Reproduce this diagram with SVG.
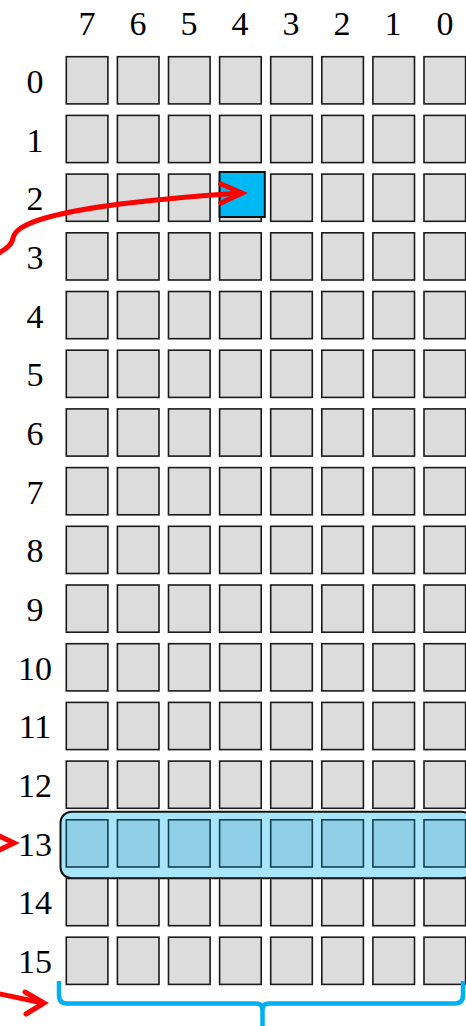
<svg xmlns="http://www.w3.org/2000/svg" width="466" height="1026" viewBox="0 0 466 1026">
<defs>
<style>
.c{fill:#dcdcdc;stroke:#1a1a1a;stroke-width:1.6}
.h{fill:#8fd0e8;stroke:#113f52;stroke-width:1.6}
.t{font-family:"Liberation Serif","DejaVu Serif",serif;font-size:34px;fill:#000;text-anchor:middle}
.r{fill:none;stroke:#ff0000;stroke-width:5;stroke-linecap:round;stroke-linejoin:miter}
</style>
<rect id="cell" width="41.6" height="47.2"/>
</defs>
<rect width="466" height="1026" fill="#fff"/>
<g id="col-labels" class="t">
<text x="87" y="35">7</text><text x="138" y="35">6</text><text x="189" y="35">5</text><text x="240" y="35">4</text><text x="291" y="35">3</text><text x="342" y="35">2</text><text x="393" y="35">1</text><text x="445" y="35">0</text>
</g>
<g id="row-labels" class="t">
<text x="35" y="93">0</text><text x="35" y="152">1</text><text x="35" y="210">2</text><text x="35" y="269">3</text><text x="35" y="328">4</text><text x="35" y="386">5</text><text x="35" y="445">6</text><text x="35" y="504">7</text><text x="35" y="562">8</text><text x="35" y="621">9</text><text x="35" y="680">10</text><text x="35" y="738">11</text><text x="35" y="797">12</text><text x="35" y="856">13</text><text x="35" y="914">14</text><text x="35" y="973">15</text>
</g>
<g id="grid">
<g id="rows0-12">
<!-- generated rows -->
<g transform="translate(0,56.7)"><use href="#cell" x="66.3" class="c"/><use href="#cell" x="117.4" class="c"/><use href="#cell" x="168.5" class="c"/><use href="#cell" x="219.6" class="c"/><use href="#cell" x="270.7" class="c"/><use href="#cell" x="321.8" class="c"/><use href="#cell" x="372.9" class="c"/><use href="#cell" x="424" class="c"/></g>
<g transform="translate(0,115.4)"><use href="#cell" x="66.3" class="c"/><use href="#cell" x="117.4" class="c"/><use href="#cell" x="168.5" class="c"/><use href="#cell" x="219.6" class="c"/><use href="#cell" x="270.7" class="c"/><use href="#cell" x="321.8" class="c"/><use href="#cell" x="372.9" class="c"/><use href="#cell" x="424" class="c"/></g>
<g transform="translate(0,174.1)"><use href="#cell" x="66.3" class="c"/><use href="#cell" x="117.4" class="c"/><use href="#cell" x="168.5" class="c"/><use href="#cell" x="219.6" class="c"/><use href="#cell" x="270.7" class="c"/><use href="#cell" x="321.8" class="c"/><use href="#cell" x="372.9" class="c"/><use href="#cell" x="424" class="c"/></g>
<g transform="translate(0,232.8)"><use href="#cell" x="66.3" class="c"/><use href="#cell" x="117.4" class="c"/><use href="#cell" x="168.5" class="c"/><use href="#cell" x="219.6" class="c"/><use href="#cell" x="270.7" class="c"/><use href="#cell" x="321.8" class="c"/><use href="#cell" x="372.9" class="c"/><use href="#cell" x="424" class="c"/></g>
<g transform="translate(0,291.5)"><use href="#cell" x="66.3" class="c"/><use href="#cell" x="117.4" class="c"/><use href="#cell" x="168.5" class="c"/><use href="#cell" x="219.6" class="c"/><use href="#cell" x="270.7" class="c"/><use href="#cell" x="321.8" class="c"/><use href="#cell" x="372.9" class="c"/><use href="#cell" x="424" class="c"/></g>
<g transform="translate(0,350.2)"><use href="#cell" x="66.3" class="c"/><use href="#cell" x="117.4" class="c"/><use href="#cell" x="168.5" class="c"/><use href="#cell" x="219.6" class="c"/><use href="#cell" x="270.7" class="c"/><use href="#cell" x="321.8" class="c"/><use href="#cell" x="372.9" class="c"/><use href="#cell" x="424" class="c"/></g>
<g transform="translate(0,408.9)"><use href="#cell" x="66.3" class="c"/><use href="#cell" x="117.4" class="c"/><use href="#cell" x="168.5" class="c"/><use href="#cell" x="219.6" class="c"/><use href="#cell" x="270.7" class="c"/><use href="#cell" x="321.8" class="c"/><use href="#cell" x="372.9" class="c"/><use href="#cell" x="424" class="c"/></g>
<g transform="translate(0,467.6)"><use href="#cell" x="66.3" class="c"/><use href="#cell" x="117.4" class="c"/><use href="#cell" x="168.5" class="c"/><use href="#cell" x="219.6" class="c"/><use href="#cell" x="270.7" class="c"/><use href="#cell" x="321.8" class="c"/><use href="#cell" x="372.9" class="c"/><use href="#cell" x="424" class="c"/></g>
<g transform="translate(0,526.3)"><use href="#cell" x="66.3" class="c"/><use href="#cell" x="117.4" class="c"/><use href="#cell" x="168.5" class="c"/><use href="#cell" x="219.6" class="c"/><use href="#cell" x="270.7" class="c"/><use href="#cell" x="321.8" class="c"/><use href="#cell" x="372.9" class="c"/><use href="#cell" x="424" class="c"/></g>
<g transform="translate(0,585)"><use href="#cell" x="66.3" class="c"/><use href="#cell" x="117.4" class="c"/><use href="#cell" x="168.5" class="c"/><use href="#cell" x="219.6" class="c"/><use href="#cell" x="270.7" class="c"/><use href="#cell" x="321.8" class="c"/><use href="#cell" x="372.9" class="c"/><use href="#cell" x="424" class="c"/></g>
<g transform="translate(0,643.7)"><use href="#cell" x="66.3" class="c"/><use href="#cell" x="117.4" class="c"/><use href="#cell" x="168.5" class="c"/><use href="#cell" x="219.6" class="c"/><use href="#cell" x="270.7" class="c"/><use href="#cell" x="321.8" class="c"/><use href="#cell" x="372.9" class="c"/><use href="#cell" x="424" class="c"/></g>
<g transform="translate(0,702.4)"><use href="#cell" x="66.3" class="c"/><use href="#cell" x="117.4" class="c"/><use href="#cell" x="168.5" class="c"/><use href="#cell" x="219.6" class="c"/><use href="#cell" x="270.7" class="c"/><use href="#cell" x="321.8" class="c"/><use href="#cell" x="372.9" class="c"/><use href="#cell" x="424" class="c"/></g>
<g transform="translate(0,761.1)"><use href="#cell" x="66.3" class="c"/><use href="#cell" x="117.4" class="c"/><use href="#cell" x="168.5" class="c"/><use href="#cell" x="219.6" class="c"/><use href="#cell" x="270.7" class="c"/><use href="#cell" x="321.8" class="c"/><use href="#cell" x="372.9" class="c"/><use href="#cell" x="424" class="c"/></g>
</g>
<g id="row13">
<rect x="60.5" y="811.8" width="412" height="66.4" rx="11" fill="#a8e5fb" stroke="#111" stroke-width="2"/>
<g transform="translate(0,819.8)"><use href="#cell" x="66.3" class="h"/><use href="#cell" x="117.4" class="h"/><use href="#cell" x="168.5" class="h"/><use href="#cell" x="219.6" class="h"/><use href="#cell" x="270.7" class="h"/><use href="#cell" x="321.8" class="h"/><use href="#cell" x="372.9" class="h"/><use href="#cell" x="424" class="h"/></g>
</g>
<g id="rows14-15">
<g transform="translate(0,878.5)"><use href="#cell" x="66.3" class="c"/><use href="#cell" x="117.4" class="c"/><use href="#cell" x="168.5" class="c"/><use href="#cell" x="219.6" class="c"/><use href="#cell" x="270.7" class="c"/><use href="#cell" x="321.8" class="c"/><use href="#cell" x="372.9" class="c"/><use href="#cell" x="424" class="c"/></g>
<g transform="translate(0,937.2)"><use href="#cell" x="66.3" class="c"/><use href="#cell" x="117.4" class="c"/><use href="#cell" x="168.5" class="c"/><use href="#cell" x="219.6" class="c"/><use href="#cell" x="270.7" class="c"/><use href="#cell" x="321.8" class="c"/><use href="#cell" x="372.9" class="c"/><use href="#cell" x="424" class="c"/></g>
</g>
</g>
<g id="selected-bit">
<rect x="219.6" y="172" width="45.2" height="45" fill="#00b8f4" stroke="#111" stroke-width="2"/>
</g>
<g id="bracket">
<path d="M59,981 V995 Q59,1003.5 67,1003.5 H256 Q262.5,1003.5 262.5,1010 V1026 M262.5,1010 Q262.5,1003.5 269,1003.5 H455 Q463,1003.5 463,995 V981" fill="none" stroke="#00b0f0" stroke-width="4.5"/>
</g>
<g id="connectors">
<path class="r" d="M-3,254 C8,248 12,244 13,238 C16,222 60,212 120,204 C170,198 210,195 241,193"/>
<path class="r" d="M221,184 L242,193 L221,203"/>
<path class="r" d="M-5,834 L14,843 L-5,852"/>
<path class="r" d="M-5,993 L43,1003"/>
<path class="r" d="M25,992 L44,1003 L26,1014"/>
</g>
</svg>
